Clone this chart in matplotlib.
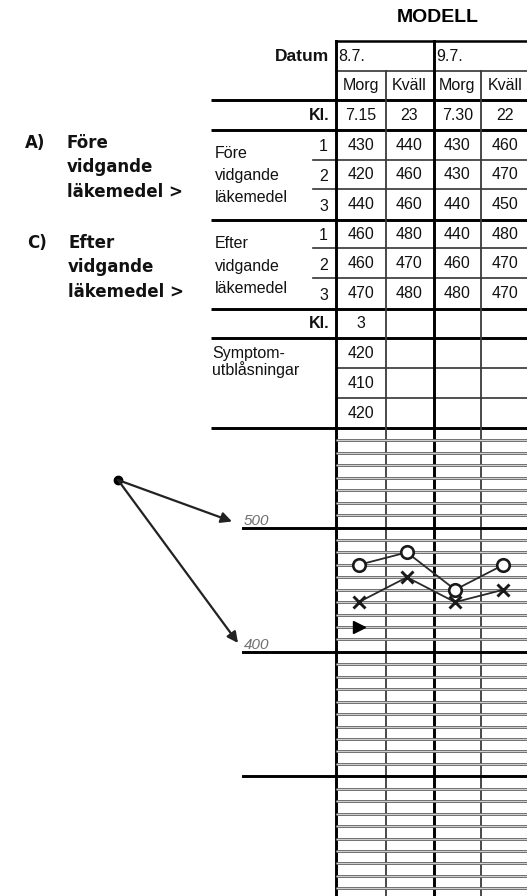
import matplotlib
matplotlib.use("Agg")
import matplotlib.pyplot as plt
from matplotlib.transforms import blended_transform_factory

# --- table contents (read from the form) ---
title = "MODELL"
dates = ["8.7.", "9.7."]
sessions = ["Morg", "Kväll", "Morg", "Kväll"]
times = ["7.15", "23", "7.30", "22"]
before = [[430, 440, 430, 460],
          [420, 460, 430, 470],
          [440, 460, 440, 450]]
after = [[460, 480, 440, 480],
         [460, 470, 460, 470],
         [470, 480, 480, 470]]
symptom_time = ["3", "", "", ""]
symptom = [420, 410, 420]

# --- values drawn on the chart part ---
curve_after = [470, 480, 450, 470]   # "O" points
curve_before = [440, 460, 440, 450]  # "X" points
symptom_marker = [420]               # triangle, first column
major_levels = [500, 400, 300]
level_labels = ["500", "400"]

W, H = 527, 896
TABLE_FONT = "Liberation Sans"

# layout of the form in pixels
col_edges = [336, 385.5, 433.5, 481, 529]
row_edges = [41.5, 71.5, 100, 130, 160, 189.5, 220, 248.5, 278.5,
             309.5, 338.5, 368, 398.5, 428]
grid_top_value = 580
px_per_unit = 1.244

fig = plt.figure(figsize=(W / 100, H / 100), dpi=100)
ax = fig.add_axes([0, 0, 1, 1])
ax.set_xlim(0, W)
ax.set_ylim(H, 0)
ax.autoscale(False)
ax.axis("off")

# chart axes below the table: x = column index, y = peak flow value
chart_h = H - row_edges[-1]
gx = fig.add_axes([col_edges[0] / W, 0, (col_edges[-1] - col_edges[0]) / W, chart_h / H])
gx.set_xlim(0, 4)
gx.set_ylim(grid_top_value - chart_h / px_per_unit, grid_top_value)
gx.set_facecolor("none")
gx.axis("off")

col_c = [(a + b) / 2 for a, b in zip(col_edges[:-1], col_edges[1:])]
row_c = [(a + b) / 2 for a, b in zip(row_edges[:-1], row_edges[1:])]

THICK, THIN = 2.1, 1.2

# horizontal table lines
for y in [100, 130, 220, 309.5, 338.5, 428]:
    ax.plot([211, W + 5], [y, y], color="black", lw=THICK, solid_capstyle="butt")
for y in [160, 189.5, 248.5, 278.5]:
    ax.plot([313, W + 5], [y, y], color="#333333", lw=THIN)
for y in [71.5, 368, 398.5]:
    ax.plot([col_edges[0], W + 5], [y, y], color="#333333", lw=THIN)
ax.plot([col_edges[0], W + 5], [41.5, 41.5], color="black", lw=1.8)

# vertical lines through table and chart
for i, x in enumerate(col_edges):
    if i % 2 == 0:
        ax.plot([x, x], [41.5, H + 5], color="black", lw=THICK)
    else:
        ax.plot([x, x], [71.5, H + 5], color="#3a3a3a", lw=1.3)

# gridlines every 10 units (drawn doubled, like the printed form)
lo, hi = gx.get_ylim()
minor = [v for v in range(int(lo) + 10 - int(lo) % 10, grid_top_value, 10) if v not in major_levels]
gx.hlines(minor, 0, 4, color="#6e6e6e", lw=2.1, zorder=1)
gx.hlines(minor, 0, 4, color="#e2e2e2", lw=0.6, zorder=1.1)

# major levels run further left, out of the chart axes
blend = blended_transform_factory(ax.transData, gx.transData)
for v in major_levels:
    ax.plot([243, W + 5], [v, v], transform=blend, color="black", lw=THICK)
for lab in level_labels:
    ax.annotate(lab, xy=(244, float(lab)), xycoords=blend, xytext=(0, 2),
                textcoords="offset points", va="baseline", ha="left",
                fontsize=11, style="italic", color="#707070", family=TABLE_FONT)

# curves
xs = [i + 0.47 for i in range(len(curve_after))]
gx.plot(xs, curve_after, color="#2a2a2a", lw=1.3, marker="o", ms=9,
        mfc="white", mec="#1a1a1a", mew=1.9, zorder=4)
gx.plot(xs, curve_before, color="#2a2a2a", lw=1.3, marker="x", ms=8,
        mec="#1a1a1a", mew=2.1, zorder=4)
gx.plot(xs[:1], symptom_marker, linestyle="none", marker=">", ms=8,
        color="black", zorder=4)

# arrows from the dot to the level labels
ax.plot(118, 480, "o", ms=6, color="black")
for tip in [(232, 521.5), (238, 643)]:
    ax.annotate("", xy=tip, xytext=(118, 480),
                arrowprops=dict(arrowstyle="-|>", color="#222222", lw=1.6,
                                mutation_scale=16, shrinkA=0, shrinkB=0))

# --- text of the table ---
tk = dict(family=TABLE_FONT, fontsize=11.5, color="#111111")
ax.text(437.5, 17, title, ha="center", va="center", family=TABLE_FONT,
        fontsize=14, fontweight="bold")
ax.text(329, row_c[0], "Datum", ha="right", va="center", fontweight="bold", **dict(tk, fontsize=12.5))
for j, d in enumerate(dates):
    ax.text(col_edges[2 * j] + 2.5, row_c[0], d, ha="left", va="center", **tk)
for j, s in enumerate(sessions):
    ax.text(col_c[j], row_c[1], s, ha="center", va="center", **tk)
ax.text(329, row_c[2], "Kl.", ha="right", va="center", fontweight="bold", **tk)
for j, t in enumerate(times):
    ax.text(col_c[j], row_c[2], t, ha="center", va="center", **tk)

for block, first_row in [(before, 3), (after, 6)]:
    for i, row in enumerate(block):
        ax.text(328, row_c[first_row + i] + 1.5, str(i + 1), ha="right", va="center", **tk)
        for j, v in enumerate(row):
            ax.text(col_c[j], row_c[first_row + i], str(v), ha="center", va="center", **tk)

for i, word in enumerate(["Före", "vidgande", "läkemedel"]):
    ax.text(215, 158 + 22 * i, word, ha="left", va="baseline", **tk)
for i, word in enumerate(["Efter", "vidgande", "läkemedel"]):
    ax.text(215, 248 + 22.5 * i, word, ha="left", va="baseline", **tk)

ax.text(329, row_c[9], "Kl.", ha="right", va="center", fontweight="bold", **tk)
for j, t in enumerate(symptom_time):
    ax.text(col_c[j], row_c[9], t, ha="center", va="center", **tk)
ax.text(212, 358, "Symptom-", ha="left", va="baseline", **tk)
ax.text(212, 375, "utblåsningar", ha="left", va="baseline", **tk)
for i, v in enumerate(symptom):
    ax.text(col_c[0], row_c[10 + i], str(v), ha="center", va="center", **tk)

# --- bold notes on the left ---
nk = dict(family="DejaVu Sans", fontsize=12, fontweight="bold", color="#111111",
          ha="left", va="baseline")
ax.text(25, 148, "A)", **nk)
for i, word in enumerate(["Före", "vidgande", "läkemedel >"]):
    ax.text(67, 148 + 24.5 * i, word, **nk)
ax.text(27, 248, "C)", **nk)
for i, word in enumerate(["Efter", "vidgande", "läkemedel >"]):
    ax.text(68, 248 + 24.5 * i, word, **nk)

fig.savefig("out.png", dpi=100)
